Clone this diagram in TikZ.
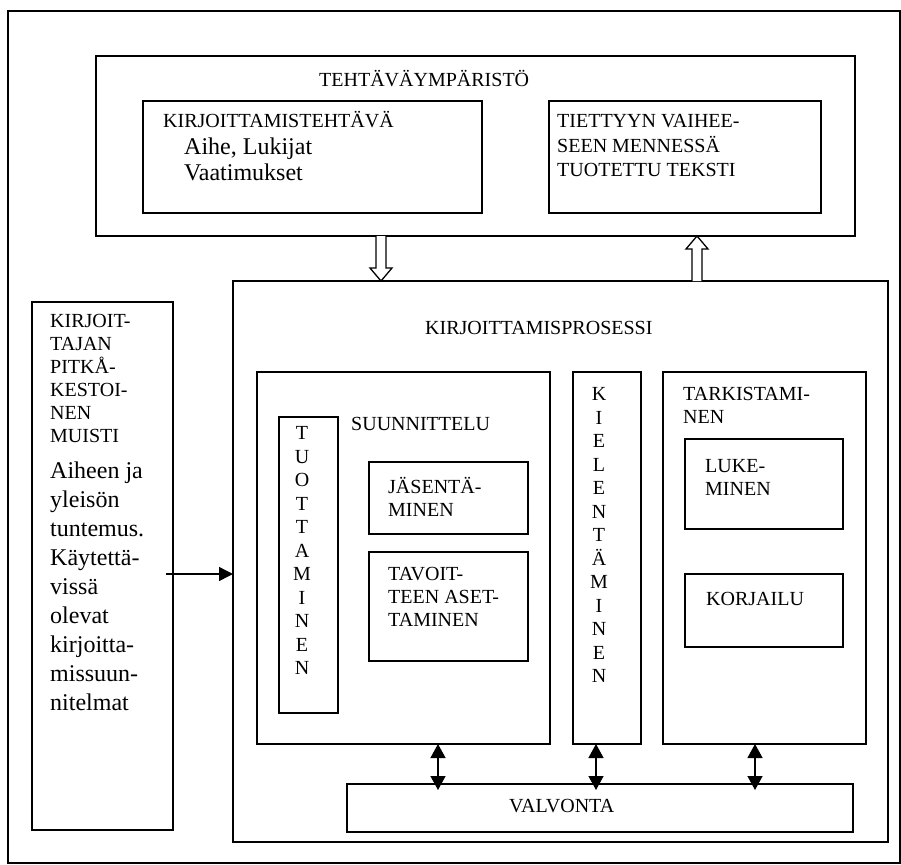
\documentclass[tikz,border=0pt]{standalone}
\usepackage{fontspec}
\setmainfont{Liberation Serif}
\usetikzlibrary{arrows.meta,calc}
\begin{document}
\begin{tikzpicture}[x=1pt,y=-1pt,
  boxline/.style={draw,line width=1.4pt,inner sep=0pt,outer sep=0pt,anchor=north west},
  capline/.style={anchor=base west,inner sep=0pt,font=\fontsize{20}{23}\selectfont},
  bigline/.style={anchor=base west,inner sep=0pt,font=\fontsize{24}{29}\selectfont},
  stack/.style={anchor=north,inner sep=0pt,align=center,font=\fontsize{20}{23.5}\selectfont},
  link/.style={line width=1.4pt,{Triangle[length=14pt,width=15pt]}-{Triangle[length=14pt,width=15pt]}},
  feed/.style={line width=1.4pt,-{Triangle[length=14pt,width=14pt]}},
  hollow/.style={draw,line width=1.3pt,fill=white,line join=miter}]
\useasboundingbox (0,0) rectangle (901,864);

% outer frame and the task environment
\node[boxline,minimum width=892pt,minimum height=852pt] (page) at (8,11) {};
\node[boxline,minimum width=759pt,minimum height=180pt] (env) at (96,56) {};
\node[capline] (envT) at (319,87) {TEHTÄVÄYMPÄRISTÖ};
\node[boxline,minimum width=339pt,minimum height=112pt] (task) at (143,101) {};
\node[capline] (taskT) at (163,128) {KIRJOITTAMISTEHTÄVÄ};
\node[bigline] (taskA) at (184,154) {Aihe, Lukijat};
\node[bigline] (taskB) at (184,180) {Vaatimukset};
\node[boxline,minimum width=272pt,minimum height=112pt] (sofar) at (549,101) {};
\node[capline] (sofarA) at (557,128) {TIETTYYN VAIHEE-};
\node[capline] (sofarB) at (557,152) {SEEN MENNESSÄ};
\node[capline] (sofarC) at (557,176) {TUOTETTU TEKSTI};

% long-term memory
\node[boxline,minimum width=141pt,minimum height=528pt] (mem) at (32,302) {};
\node[capline] (memA) at (50,327) {KIRJOIT-};
\node[capline] (memB) at (50,350) {TAJAN};
\node[capline] (memC) at (50,373) {PITKÅ-};
\node[capline] (memD) at (50,396) {KESTOI-};
\node[capline] (memE) at (50,419) {NEN};
\node[capline] (memF) at (50,442) {MUISTI};
\node[bigline] (memG) at (50,478) {Aiheen ja};
\node[bigline] (memH) at (50,507) {yleisön};
\node[bigline] (memI) at (50,536) {tuntemus.};
\node[bigline] (memJ) at (50,565) {Käytettä-};
\node[bigline] (memK) at (50,594) {vissä};
\node[bigline] (memL) at (50,623) {olevat};
\node[bigline] (memM) at (50,652) {kirjoitta-};
\node[bigline] (memN) at (50,681) {missuun-};
\node[bigline] (memO) at (50,710) {nitelmat};

% writing process
\node[boxline,minimum width=655pt,minimum height=561pt] (proc) at (233,281) {};
\node[capline] (procT) at (425,334) {KIRJOITTAMISPROSESSI};

\node[boxline,minimum width=293pt,minimum height=372pt] (plan) at (257,372) {};
\node[capline] (planT) at (351,430) {SUUNNITTELU};
\node[boxline,minimum width=59pt,minimum height=296pt] (gen) at (279,417) {};
\node[stack] (genT) at (302,426.4) {T\\U\\O\\T\\T\\A\\M\\I\\N\\E\\N};
\node[boxline,minimum width=159pt,minimum height=72pt] (org) at (369,462) {};
\node[capline] (orgA) at (388,493) {JÄSENTÄ-};
\node[capline] (orgB) at (388,516) {MINEN};
\node[boxline,minimum width=159pt,minimum height=109pt] (goal) at (369,552) {};
\node[capline] (goalA) at (388,580) {TAVOIT-};
\node[capline] (goalB) at (388,603) {TEEN ASET-};
\node[capline] (goalC) at (388,626) {TAMINEN};

\node[boxline,minimum width=68pt,minimum height=372pt] (trans) at (573,372) {};
\node[stack] (transT) at (599,387.4) {K\\I\\E\\L\\E\\N\\T\\Ä\\M\\I\\N\\E\\N};

\node[boxline,minimum width=203pt,minimum height=372pt] (rev) at (663,372) {};
\node[capline] (revA) at (683,400) {TARKISTAMI-};
\node[capline] (revB) at (683,423) {NEN};
\node[boxline,minimum width=158pt,minimum height=90pt] (read) at (685,439) {};
\node[capline] (readA) at (705,472) {LUKE-};
\node[capline] (readB) at (705,495) {MINEN};
\node[boxline,minimum width=158pt,minimum height=73pt] (edit) at (685,574) {};
\node[capline] (editT) at (706,605) {KORJAILU};

\node[boxline,minimum width=506pt,minimum height=48pt] (mon) at (347,784) {};
\node[capline] (monT) at (509,812) {VALVONTA};

% memory feeds the process
\coordinate (memOut) at (166,574);
\draw[feed] (memOut) -- (memOut -| proc.west);

% monitoring links
\coordinate (xa) at (438,0);
\coordinate (xb) at (596,0);
\coordinate (xc) at (755,0);
\draw[link] (plan.south -| xa) -- ($(mon.north -| xa)+(0,6)$);
\draw[link] (trans.south -| xb) -- ($(mon.north -| xb)+(0,6)$);
\draw[link] (rev.south -| xc) -- ($(mon.north -| xc)+(0,6)$);

% hollow arrows between environment and process
\coordinate (xd) at (381,0);
\coordinate (xu) at (697,0);
\coordinate (dTop) at (env.south -| xd);
\coordinate (dTip) at (proc.north -| xd);
\draw[hollow] ($(dTop)+(-5,0)$) -- ($(dTip)+(-5,-13)$) -- ($(dTip)+(-11,-13)$) -- (dTip)
  -- ($(dTip)+(11,-13)$) -- ($(dTip)+(5,-13)$) -- ($(dTop)+(5,0)$);
\coordinate (uBot) at (proc.north -| xu);
\coordinate (uTip) at (env.south -| xu);
\draw[hollow] ($(uBot)+(-5,0)$) -- ($(uTip)+(-5,13)$) -- ($(uTip)+(-11,13)$) -- (uTip)
  -- ($(uTip)+(11,13)$) -- ($(uTip)+(5,13)$) -- ($(uBot)+(5,0)$);
\end{tikzpicture}
\end{document}
